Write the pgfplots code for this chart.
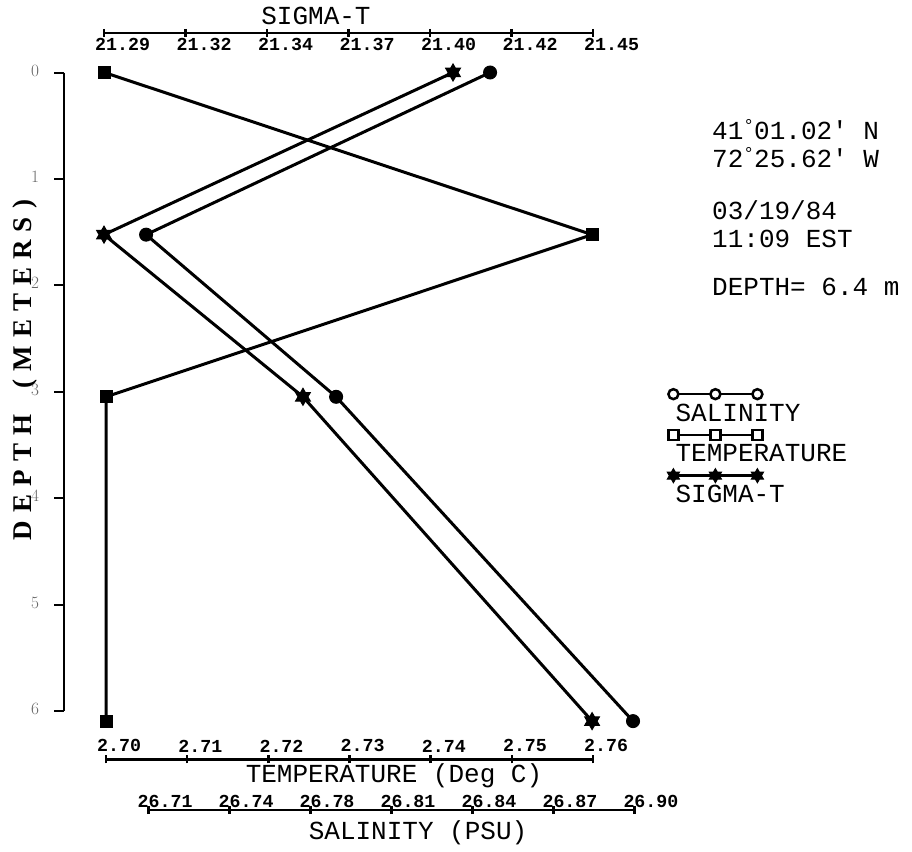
\documentclass[border=0pt]{standalone}
\usepackage{pgfplots}
\pgfplotsset{compat=1.18}
\usepackage{fontspec}
\setmainfont{Liberation Mono}
\newfontfamily\serifdigits{Liberation Serif}
\newfontfamily\depthfont[LetterSpace=30]{Liberation Serif}
\newcommand\ticklabfont{\fontsize{18.3}{18.3}\selectfont\bfseries}
\newcommand\titlefont{\fontsize{26}{26}\selectfont}

\pgfdeclareplotmark{hexstar}{%
  \pgfpathmoveto{\pgfqpointpolar{90}{\pgfplotmarksize}}%
  \pgfpathlineto{\pgfqpointpolar{210}{\pgfplotmarksize}}%
  \pgfpathlineto{\pgfqpointpolar{330}{\pgfplotmarksize}}%
  \pgfpathclose
  \pgfpathmoveto{\pgfqpointpolar{30}{\pgfplotmarksize}}%
  \pgfpathlineto{\pgfqpointpolar{150}{\pgfplotmarksize}}%
  \pgfpathlineto{\pgfqpointpolar{270}{\pgfplotmarksize}}%
  \pgfpathclose
  \pgfusepathqfillstroke}

\pgfplotsset{
  layer/.style={scale only axis, clip=false, y dir=reverse, anchor=south west,
    axis y line=none,
    every tick/.style={black, line width=2.5pt},
    tick label style={font=\ticklabfont},
    tick align=inside, major tick length=8pt,
  },
  ser/.style={black, line width=3pt, mark options={solid, fill=black, line width=1pt}},
}

\begin{document}
\begin{tikzpicture}
\useasboundingbox (0pt,0pt) rectangle (912pt,851pt);

% ---------- depth axis (left) with legend ----------
\begin{axis}[scale only axis, clip=false, y dir=reverse, anchor=south west,
  at={(64pt,140.1pt)}, width=20pt, height=638.4pt,
  xmin=0, xmax=1, ymin=0, ymax=6,
  axis x line=none, axis y line=left, axis line style={-, line width=2.5pt},
  ytick={0,1,2,3,4,5,6},
  tick align=outside, major tick length=10pt,
  every tick/.style={black, line width=2pt},
  yticklabel style={font=\serifdigits\fontsize{17}{17}\selectfont, text=black!60,
    anchor=center, inner sep=0pt, xshift=-19pt, yshift=2pt},
  ylabel={DEPTH\hspace{26pt}(METERS)},
  ylabel style={at={(axis description cs:-1.95,0.534)}, anchor=center,
    font=\depthfont\bfseries\fontsize{27}{27}\selectfont},
  legend style={at={(axis description cs:30.55,0.4815)}, anchor=north west,
    draw=none, fill=none, inner sep=0pt, row sep=22pt, column sep=0pt,
    font=\titlefont, nodes={inner sep=0pt}},
  legend cell align=left,
]
\addlegendimage{legend image code/.code={%
  \draw[overlay, black, line width=2.5pt, mark=*, mark size=5pt,
    mark options={fill=white, line width=2.5pt}]
    plot coordinates {(-2pt,19pt) (40pt,19pt) (82pt,19pt)};
  \path (0pt,0pt);}}
\addlegendentry{SALINITY}
\addlegendimage{legend image code/.code={%
  \draw[overlay, black, line width=2.5pt, mark=square*, mark size=5pt,
    mark options={fill=white, line width=2.5pt}]
    plot coordinates {(-2pt,19pt) (40pt,19pt) (82pt,19pt)};
  \path (0pt,0pt);}}
\addlegendentry{TEMPERATURE}
\addlegendimage{legend image code/.code={%
  \draw[overlay, black, line width=2.5pt, mark=hexstar, mark size=7pt,
    mark options={fill=black, line width=1pt}]
    plot coordinates {(-2pt,19pt) (40pt,19pt) (82pt,19pt)};
  \path (0pt,0pt);}}
\addlegendentry{SIGMA-T}
\end{axis}

% ---------- SIGMA-T (top scale) ----------
\begin{axis}[layer, at={(104pt,118.82pt)}, width=489pt, height=699.18pt,
  xmin=21.29, xmax=21.45, ymin=-0.3712, ymax=6.2,
  axis x line=top, axis line style={-, line width=2.5pt},
  xtick={21.29,21.316667,21.343333,21.37,21.396667,21.423333,21.45},
  xticklabels={21.29,21.32,21.34,21.37,21.40,21.42,21.45},
  xticklabel style={anchor=north west, inner sep=0pt, xshift=-9pt, yshift=-9pt},
  xlabel={SIGMA-T},
  xlabel style={at={(axis description cs:0.4335,1.0243)}, anchor=center,
    font=\titlefont, inner sep=0pt},
]
\addplot[ser, mark=hexstar, mark size=8.5pt] coordinates
  {(21.4042,0) (21.29,1.524) (21.3551,3.048) (21.4497,6.096)};
\end{axis}

% ---------- TEMPERATURE (bottom scale) ----------
\begin{axis}[layer, at={(106pt,91.7pt)}, width=487pt, height=686.8pt,
  xmin=2.70, xmax=2.76, ymin=0, ymax=6.4549,
  axis x line=bottom, axis line style={-, line width=2.5pt},
  xtick={2.70,2.71,2.72,2.73,2.74,2.75,2.76},
  xticklabels={2.70,2.71,2.72,2.73,2.74,2.75,2.76},
  xticklabel style={anchor=south west, inner sep=0pt, xshift=-9pt, yshift=11pt},
  xlabel={TEMPERATURE (Deg C)},
  xlabel style={at={(axis description cs:0.5914,-0.0243)}, anchor=center,
    font=\titlefont, inner sep=0pt},
]
\addplot[ser, mark=square*, mark size=6pt] coordinates
  {(2.6998,0) (2.7599,1.524) (2.7000,3.048) (2.7000,6.096)};
\end{axis}

% ---------- SALINITY (lowest scale) ----------
\begin{axis}[layer, at={(148.4pt,41pt)}, width=485.9pt, height=737.5pt,
  xmin=26.71, xmax=26.90, ymin=0, ymax=6.9314,
  axis x line=bottom, axis line style={-, line width=2.5pt},
  xtick={26.71,26.741667,26.773333,26.805,26.836667,26.868333,26.90},
  xticklabels={26.71,26.74,26.78,26.81,26.84,26.87,26.90},
  xticklabel style={anchor=south west, inner sep=0pt, xshift=-11pt, yshift=6pt},
  xlabel={SALINITY (PSU)},
  xlabel style={at={(axis description cs:0.5549,-0.0312)}, anchor=center,
    font=\titlefont, inner sep=0pt},
]
\addplot[ser, mark=*, mark size=6.5pt] coordinates
  {(26.8436,0) (26.7091,1.524) (26.7834,3.048) (26.8995,6.096)};
\end{axis}

% ---------- station information ----------
\begin{scope}[every node/.style={anchor=base west, inner sep=0pt, font=\titlefont}]
\node at (712pt,711.8pt) {41\raisebox{8pt}{\fontsize{18}{18}\selectfont °}01.02′ N};
\node at (712pt,683.5pt) {72\raisebox{8pt}{\fontsize{18}{18}\selectfont °}25.62′ W};
\node at (712pt,631.8pt) {03/19/84};
\node at (712pt,603.5pt) {11:09 EST};
\node at (712pt,555.2pt) {DEPTH= 6.4 m};
\end{scope}
\end{tikzpicture}
\end{document}
